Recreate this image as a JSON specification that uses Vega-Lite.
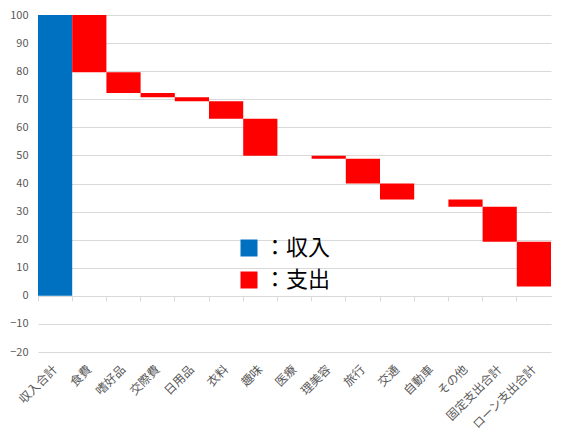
{
  "$schema": "https://vega.github.io/schema/vega-lite/v6.json",
  "width": 513,
  "height": 337,
  "autosize": {"type": "none"},
  "padding": {"left": 38, "top": 15, "right": 14, "bottom": 86},
  "background": "white",
  "config": {
    "font": "Noto Sans CJK JP",
    "view": {"stroke": null}
  },
  "data": {
    "values": [
      {"cat": "収入合計", "start": 0, "end": 100, "type": "収入"},
      {"cat": "食費", "start": 100, "end": 79.6, "type": "支出"},
      {"cat": "嗜好品", "start": 79.6, "end": 72.2, "type": "支出"},
      {"cat": "交際費", "start": 72.2, "end": 70.7, "type": "支出"},
      {"cat": "日用品", "start": 70.7, "end": 69.3, "type": "支出"},
      {"cat": "衣料", "start": 69.3, "end": 63.1, "type": "支出"},
      {"cat": "趣味", "start": 63.1, "end": 49.9, "type": "支出"},
      {"cat": "医療", "start": 49.9, "end": 49.9, "type": "支出"},
      {"cat": "理美容", "start": 49.9, "end": 48.8, "type": "支出"},
      {"cat": "旅行", "start": 48.8, "end": 40.0, "type": "支出"},
      {"cat": "交通", "start": 40.0, "end": 34.3, "type": "支出"},
      {"cat": "自動車", "start": 34.3, "end": 34.3, "type": "支出"},
      {"cat": "その他", "start": 34.3, "end": 31.7, "type": "支出"},
      {"cat": "固定支出合計", "start": 31.7, "end": 19.3, "type": "支出"},
      {"cat": "ローン支出合計", "start": 19.3, "end": 3.3, "type": "支出"}
    ]
  },
  "mark": {"type": "bar", "cornerRadius": 0},
  "encoding": {
    "x": {
      "field": "cat",
      "type": "nominal",
      "sort": null,
      "scale": {"paddingInner": 0, "paddingOuter": 0},
      "axis": {
        "title": null,
        "offset": -56,
        "domain": true,
        "domainColor": "#d9d9d9",
        "ticks": true,
        "tickColor": "#d9d9d9",
        "tickSize": 5,
        "bandPosition": 0,
        "labelAngle": -45,
        "labelAlign": "right",
        "labelBaseline": "middle",
        "labelPadding": 66,
        "labelFontSize": 12,
        "labelColor": "#595959",
        "grid": false
      }
    },
    "y": {
      "field": "start",
      "type": "quantitative",
      "scale": {"domain": [-20, 100], "nice": false, "zero": false},
      "axis": {
        "title": null,
        "values": [-20, -10, 0, 10, 20, 30, 40, 50, 60, 70, 80, 90, 100],
        "domain": false,
        "ticks": false,
        "labelPadding": 10,
        "labelFontSize": 11,
        "labelColor": "#595959",
        "gridColor": "#d9d9d9",
        "gridWidth": 1
      }
    },
    "y2": {"field": "end"},
    "color": {
      "field": "type",
      "type": "nominal",
      "scale": {"domain": ["収入", "支出"], "range": ["#0070C0", "#FF0000"]},
      "legend": {
        "title": null,
        "orient": "none",
        "legendX": 200,
        "legendY": 222,
        "symbolType": "square",
        "symbolSize": 289,
        "symbolStrokeWidth": 0,
        "labelExpr": "'：' + datum.label",
        "labelFontSize": 22,
        "labelColor": "#000000",
        "labelOffset": 4,
        "rowPadding": 10,
        "padding": 0
      }
    }
  }
}
